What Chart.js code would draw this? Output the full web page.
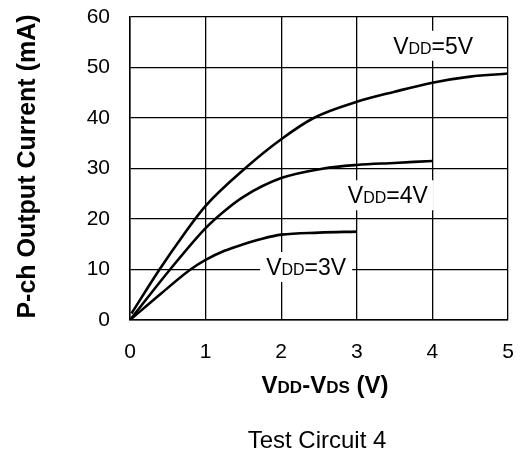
<!DOCTYPE html>
<html>
<head>
<meta charset="utf-8">
<script src="https://cdn.jsdelivr.net/npm/chart.js@4"></script>
<style>
html,body{margin:0;padding:0;background:#fff;}
#wrap{width:523px;height:452px;position:relative;}
</style>
</head>
<body>
<div id="wrap"><canvas id="c" width="523" height="452"></canvas></div>
<script>
// Data
const v5X = [0.02, 0.39, 0.7, 1.0, 1.52, 2.0, 2.43, 3.0, 3.5, 4.0, 4.5, 5.0];
const v5Y = [1.3, 10, 16.7, 22.6, 30, 35.8, 40, 43.2, 45.2, 47.0, 48.2, 48.8];
const v4X = [0, 0.53, 1.0, 1.25, 1.5, 2.0, 2.56, 3.0, 3.5, 4.0];
const v4Y = [0, 10, 18.2, 21.6, 24.4, 28.1, 30, 30.7, 31.1, 31.5];
const v3X = [0, 0.4, 0.8, 1.0, 1.25, 1.5, 1.75, 2.0, 2.5, 3.0];
const v3Y = [0, 5.1, 10, 11.9, 13.7, 15.0, 16.1, 16.9, 17.3, 17.5];
const xTicks = [0, 1, 2, 3, 4, 5];
const yTicks = [0, 10, 20, 30, 40, 50, 60];
const curveLabels = [
  {sub: 'DD', rest: '=5V', x: 4.01, y: 54.3},
  {sub: 'DD', rest: '=4V', x: 3.41, y: 24.7},
  {sub: 'DD', rest: '=3V', x: 2.33, y: 10.5}
];
const xTitleParts = [['V', 1], ['DD', 0], ['-', 1], ['V', 1], ['DS', 0], [' (V)', 1]];
const yTitle = 'P-ch Output Current (mA)';
const caption = 'Test Circuit 4';

const FAM = '"Liberation Sans", Arial, Helvetica, sans-serif';
const toPts = (xs, ys) => xs.map((x, i) => ({x: x, y: ys[i]}));

function drawParts(ctx, parts, cx, baseline, bigFont, smallFont) {
  let w = 0;
  const widths = parts.map(p => { ctx.font = p[1] ? bigFont : smallFont; const m = ctx.measureText(p[0]).width; w += m; return m; });
  let x = cx - w / 2;
  ctx.textAlign = 'left';
  ctx.textBaseline = 'alphabetic';
  parts.forEach((p, i) => { ctx.font = p[1] ? bigFont : smallFont; ctx.fillText(p[0], x, baseline); x += widths[i]; });
  return w;
}

const textPlugin = {
  id: 'textPlugin',
  afterDatasetsDraw(chart) {
    const ctx = chart.ctx;
    const xs = chart.scales.x, ys = chart.scales.y;
    ctx.save();
    ctx.fillStyle = '#000';
    curveLabels.forEach(l => {
      const cx = xs.getPixelForValue(l.x), cy = ys.getPixelForValue(l.y);
      const parts = [['V', 1], [l.sub, 0], [l.rest, 1]];
      let w = 0;
      parts.forEach(p => { ctx.font = (p[1] ? '23px ' : '16px ') + FAM; w += ctx.measureText(p[0]).width; });
      ctx.fillStyle = '#fff';
      ctx.fillRect(cx - w / 2 - 6, cy - 15, w + 12, 30);
      ctx.fillStyle = '#000';
      drawParts(ctx, parts, cx, cy + 8, '23px ' + FAM, '16px ' + FAM);
    });
    ctx.restore();
  },
  afterDraw(chart) {
    const ctx = chart.ctx;
    const area = chart.chartArea;
    ctx.save();
    ctx.fillStyle = '#000';
    drawParts(ctx, xTitleParts, (area.left + area.right) / 2 + 6, 393, 'bold 24px ' + FAM, 'bold 17px ' + FAM);
    ctx.font = '24px ' + FAM;
    ctx.textAlign = 'center';
    ctx.textBaseline = 'alphabetic';
    ctx.fillText(caption, (area.left + area.right) / 2 - 2, 448);
    ctx.translate(35, (area.top + area.bottom) / 2 - 2);
    ctx.rotate(-Math.PI / 2);
    ctx.font = 'bold 25px ' + FAM;
    ctx.textAlign = 'center';
    ctx.fillText(yTitle, 0, 0);
    ctx.restore();
  }
};

const lineStyle = {borderColor: '#000', borderWidth: 2.6, pointRadius: 0, fill: false, showLine: true, cubicInterpolationMode: 'monotone'};

new Chart(document.getElementById('c'), {
  type: 'scatter',
  data: {
    datasets: [
      Object.assign({label: 'VDD=5V', data: toPts(v5X, v5Y)}, lineStyle),
      Object.assign({label: 'VDD=4V', data: toPts(v4X, v4Y)}, lineStyle),
      Object.assign({label: 'VDD=3V', data: toPts(v3X, v3Y)}, lineStyle)
    ]
  },
  options: {
    responsive: false,
    animation: false,
    events: [],
    layout: {padding: {top: 17, right: 15, left: 0, bottom: 0}},
    plugins: {legend: {display: false}, tooltip: {enabled: false}, title: {display: false}},
    scales: {
      x: {
        type: 'linear', min: 0, max: 5,
        afterBuildTicks: s => { s.ticks = xTicks.map(v => ({value: v})); },
        afterFit: s => { s.height = 132; s.paddingLeft = 0; s.paddingRight = 0; },
        grid: {color: '#000', lineWidth: 1.3, drawTicks: false},
        border: {color: '#000', width: 1.5},
        ticks: {color: '#000', padding: 20, font: {family: FAM, size: 21}, maxRotation: 0}
      },
      y: {
        type: 'linear', min: 0, max: 60,
        afterBuildTicks: s => { s.ticks = yTicks.map(v => ({value: v})); },
        afterFit: s => { s.width = 130; s.paddingTop = 0; s.paddingBottom = 0; },
        grid: {color: '#000', lineWidth: 1.3, drawTicks: false},
        border: {color: '#000', width: 1.5},
        ticks: {color: '#000', padding: 20, font: {family: FAM, size: 21}}
      }
    }
  },
  plugins: [textPlugin]
});
</script>
</body>
</html>
